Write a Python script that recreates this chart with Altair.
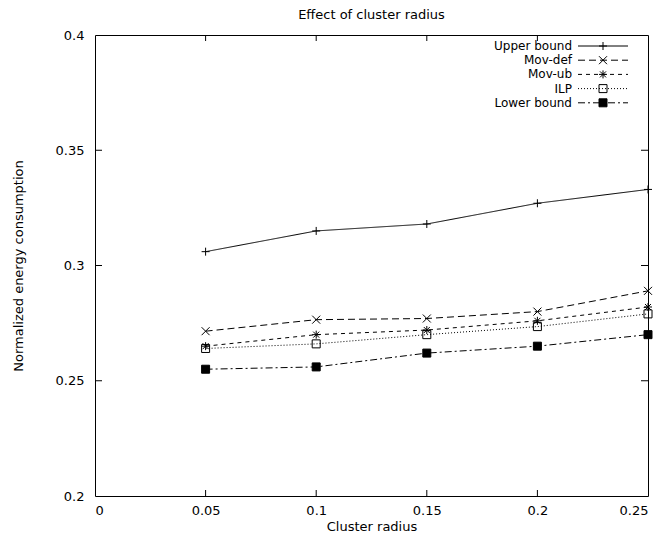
import altair as alt
import pandas as pd

# Cluster radius values on the x axis
radius = [0.05, 0.10, 0.15, 0.20, 0.25]

# Normalized energy consumption per method
upper_bound = [0.306, 0.315, 0.318, 0.327, 0.333]
mov_def = [0.2715, 0.2765, 0.277, 0.280, 0.289]
mov_ub = [0.265, 0.270, 0.272, 0.276, 0.282]
ilp = [0.264, 0.266, 0.270, 0.2735, 0.279]
lower_bound = [0.255, 0.256, 0.262, 0.265, 0.270]

series_names = ["Upper bound", "Mov-def", "Mov-ub", "ILP", "Lower bound"]
x_ticks = [0, 0.05, 0.1, 0.15, 0.2, 0.25]
y_ticks = [0.2, 0.25, 0.3, 0.35, 0.4]

rows = []
for name, vals in zip(series_names, [upper_bound, mov_def, mov_ub, ilp, lower_bound]):
    for r, v in zip(radius, vals):
        rows.append({"series": name, "radius": r, "energy": v})
df = pd.DataFrame(rows)

FONT = "DejaVu Sans"
FS = 13
KEY_FS = 12

# marker glyphs as unit paths
PLUS = "M-1,0L1,0M0,-1L0,1"
CROSS = "M-1,-1L1,1M-1,1L1,-1"
STAR = "M-1,0L1,0M0,-1L0,1M-0.75,-0.75L0.75,0.75M-0.75,0.75L0.75,-0.75"

dash_scale = alt.Scale(domain=series_names,
                       range=[[1, 0], [7, 4], [4, 4], [1, 2], [7, 3, 2, 3]])
shape_scale = alt.Scale(domain=series_names,
                        range=[PLUS, CROSS, STAR, "square", "square"])
fill_scale = alt.Scale(domain=series_names,
                       range=["transparent", "transparent", "transparent", "transparent", "black"])
size_scale = alt.Scale(domain=series_names, range=[64, 64, 64, 72, 72])

x_scale = alt.Scale(domain=[0, 0.25], nice=False, zero=False)
y_scale = alt.Scale(domain=[0.2, 0.4], nice=False, zero=False)

x_axis = alt.Axis(values=x_ticks, format="~g", title="Cluster radius",
                  ticks=False, domain=False, grid=False,
                  labelPadding=8, titlePadding=3,
                  labelFont=FONT, labelFontSize=FS, titleFont=FONT,
                  titleFontSize=FS, titleFontWeight="normal",
                  labelColor="black", titleColor="black")
y_axis = alt.Axis(values=y_ticks, format="~g", title="Normalized energy consumption",
                  ticks=False, domain=False, grid=False,
                  labelPadding=11, titlePadding=30,
                  labelFont=FONT, labelFontSize=FS, titleFont=FONT,
                  titleFontSize=FS, titleFontWeight="normal",
                  labelColor="black", titleColor="black")


def xe(field):
    return alt.X(field, type="quantitative", scale=x_scale, axis=x_axis)


def ye(field):
    return alt.Y(field, type="quantitative", scale=y_scale, axis=y_axis)


base = alt.Chart(df)

lines = base.mark_line(color="black", strokeWidth=1).encode(
    x=xe("radius"),
    y=ye("energy"),
    detail="series:N",
    strokeDash=alt.StrokeDash("series:N", scale=dash_scale, legend=None),
)

points = base.mark_point(stroke="black", strokeWidth=1, opacity=1, fillOpacity=1).encode(
    x=xe("radius"),
    y=ye("energy"),
    shape=alt.Shape("series:N", scale=shape_scale, legend=None),
    fill=alt.Fill("series:N", scale=fill_scale, legend=None),
    size=alt.Size("series:N", scale=size_scale, legend=None),
)

# inward tick marks on all four sides of the frame
xt = pd.DataFrame({"radius": x_ticks[1:-1]})
yt = pd.DataFrame({"energy": y_ticks[1:-1]})

ticks_bottom = alt.Chart(xt).mark_rule(color="black", y2Offset=-6).encode(
    x=xe("radius"), y=alt.datum(0.2), y2=alt.datum(0.2))
ticks_top = alt.Chart(xt).mark_rule(color="black", y2Offset=6).encode(
    x=xe("radius"), y=alt.datum(0.4), y2=alt.datum(0.4))
ticks_left = alt.Chart(yt).mark_rule(color="black", x2Offset=7).encode(
    y=ye("energy"), x=alt.datum(0), x2=alt.datum(0))
ticks_right = alt.Chart(yt).mark_rule(color="black", x2Offset=-7).encode(
    y=ye("energy"), x=alt.datum(0.25), x2=alt.datum(0.25))

main = alt.layer(lines, points, ticks_bottom, ticks_top, ticks_left, ticks_right)

# key in the upper right corner: label, line sample, marker
key_df = pd.DataFrame({"series": series_names})
key_y = alt.Y("series:N", sort=series_names,
              scale=alt.Scale(type="point", domain=series_names, range=[11, 67.8], padding=0),
              axis=None)
key_base = alt.Chart(key_df)
key_lines = key_base.mark_rule(color="black", strokeWidth=1).encode(
    x=alt.value(483), x2=alt.value(533), y=key_y,
    strokeDash=alt.StrokeDash("series:N", scale=dash_scale, legend=None))
key_points = key_base.mark_point(stroke="black", strokeWidth=1, opacity=1, fillOpacity=1).encode(
    x=alt.value(508), y=key_y,
    shape=alt.Shape("series:N", scale=shape_scale, legend=None),
    fill=alt.Fill("series:N", scale=fill_scale, legend=None),
    size=alt.Size("series:N", scale=size_scale, legend=None))
key_text = key_base.mark_text(align="right", baseline="middle", font=FONT,
                              fontSize=KEY_FS, color="black").encode(
    x=alt.value(477), y=key_y, text="series:N")
key = alt.layer(key_lines, key_points, key_text)

chart = alt.layer(main, key).resolve_scale(y="independent").properties(
    width=553,
    height=461,
    title=alt.TitleParams("Effect of cluster radius", font=FONT, fontSize=FS,
                          fontWeight="normal", color="black", offset=7,
                          anchor="middle"),
    autosize=alt.AutoSizeParams(type="none"),
    padding={"left": 95, "top": 35, "right": 21, "bottom": 44},
    background="white",
).configure_view(stroke="black", strokeWidth=1)

chart.save("out.html", embed_options={"renderer": "svg", "actions": False})
